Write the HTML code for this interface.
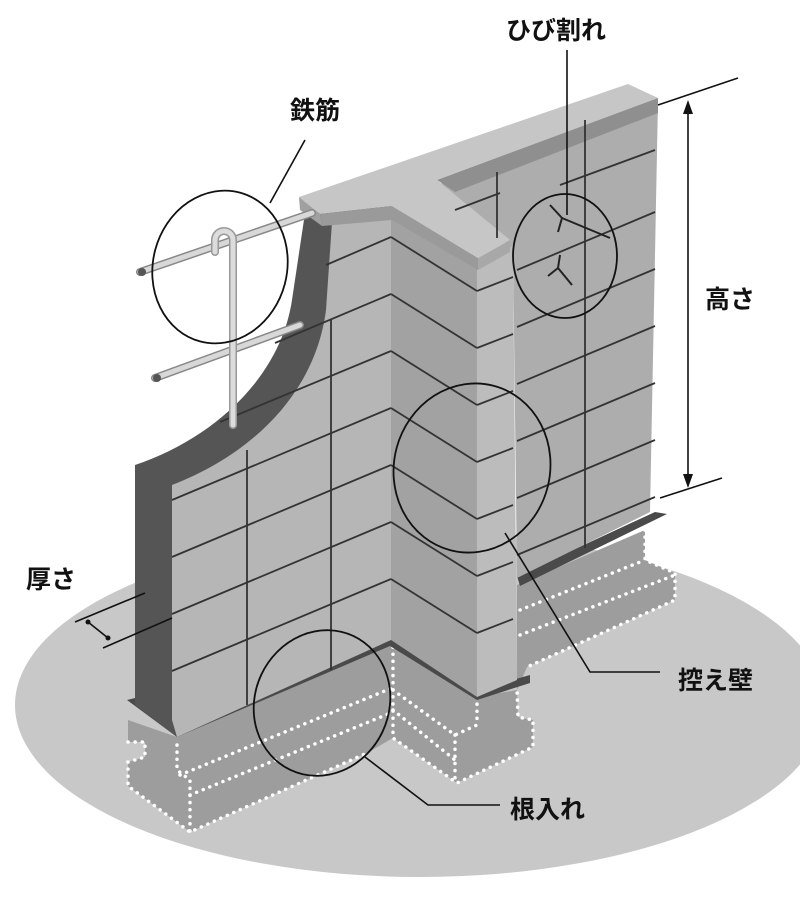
<!DOCTYPE html>
<html><head><meta charset="utf-8"><style>
html,body{margin:0;padding:0;background:#fff;}
svg{display:block;}
text{font-family:"Liberation Sans","Noto Sans CJK JP",sans-serif;font-weight:bold;font-size:25px;fill:#111;}
</style></head><body>
<svg width="800" height="905" viewBox="0 0 800 905" xmlns="http://www.w3.org/2000/svg">
<ellipse cx="420" cy="705" rx="405" ry="172" fill="#c8c8c8"/>
<polygon points="128,742 145,742 145,757 128,762 128,786 190,832 367,753 393,738 457,783 533,747 533,720 518,717 517,690 477,697 390,640 177,737 128,720" fill="#9d9d9d"/>
<polygon points="517,585 645,530 645,560 675,573 675,600 527,667 517,690" fill="#9d9d9d"/>
<g fill="none" stroke="#fff" stroke-width="3.5" stroke-dasharray="0.1 7" stroke-linecap="round">
<polyline points="128,742 145,742 145,757 128,762 128,786 190,832 367,753"/>
<polyline points="177,745 177,770 190,780 190,832"/>
<polyline points="180,775 392,688"/>
<polyline points="190,795 393,712"/>
<polyline points="393,640 393,738 457,783 533,747 533,720 518,717 517,690"/>
<polyline points="393,690 455,735 477,725"/>
<polyline points="393,710 455,760"/>
<polyline points="455,735 455,783"/>
<polyline points="477,697 477,725"/>
<polyline points="645,530 645,560 675,573 675,600 527,667"/>
<polyline points="520,610 645,560"/>
<polyline points="520,635 675,575"/>
</g>
<polygon points="127,700 390,635 400,640 390,646 177,737" fill="#4a4a4a"/>
<polygon points="390,636 477,690 530,675 530,683 477,700 390,646" fill="#4a4a4a"/>
<polygon points="517,576 655,512 667,514 520,586" fill="#4a4a4a"/>
<polygon points="437,185 658,100 650,512 517,578 513,250" fill="#adadad"/>
<path d="M135,705 L135,465 C210,440 280,380 292,300 L305,213 L391,206 L391,640 L177,737 Z" fill="#555"/>
<path d="M172,720 L172,485 C250,455 315,395 326,310 L332,222 L391,210 L391,640 L177,737 Z" fill="#b6b6b6"/>
<polygon points="391,208 477,262 477,697 391,640" fill="#a2a2a2"/>
<polygon points="477,262 513,246 517,680 477,697" fill="#bcbcbc"/>
<polygon points="299,197 628,84 658,98 437,180 510,240 478,258 392,206 320,214" fill="#c6c6c6"/>
<polygon points="320,214 392,206 478,258 478,270 392,220 322,226" fill="#9a9a9a"/>
<polygon points="478,258 510,240 510,252 478,270" fill="#a8a8a8"/>
<polygon points="437,180 658,98 658,113 455,192" fill="#8f8f8f"/>
<polygon points="299,197 320,214 322,226 300,210" fill="#a0a0a0"/>
<g stroke="#333" stroke-width="1.8" fill="none">
<line x1="247" y1="450" x2="247" y2="705"/>
<line x1="331" y1="320" x2="331" y2="670"/>
<line x1="585" y1="120" x2="585" y2="548"/>
<line x1="497" y1="172" x2="497" y2="238"/>
<line x1="172" y1="500" x2="391" y2="408"/>
<line x1="172" y1="557" x2="391" y2="465"/>
<line x1="172" y1="614" x2="391" y2="522"/>
<line x1="172" y1="671" x2="391" y2="579"/>
<line x1="220" y1="422" x2="391" y2="351"/>
<line x1="275" y1="343" x2="391" y2="294"/>
<line x1="326" y1="265" x2="391" y2="237"/>
<line x1="391" y1="294" x2="477" y2="348"/>
<line x1="391" y1="351" x2="477" y2="405"/>
<line x1="391" y1="408" x2="477" y2="462"/>
<line x1="391" y1="465" x2="477" y2="519"/>
<line x1="391" y1="522" x2="477" y2="576"/>
<line x1="391" y1="579" x2="477" y2="633"/>
<line x1="391" y1="237" x2="477" y2="291"/>
<line x1="477" y1="291" x2="513" y2="277"/>
<line x1="477" y1="348" x2="513" y2="334"/>
<line x1="477" y1="405" x2="513" y2="391"/>
<line x1="477" y1="462" x2="513" y2="448"/>
<line x1="477" y1="519" x2="513" y2="505"/>
<line x1="477" y1="576" x2="513" y2="562"/>
<line x1="477" y1="633" x2="513" y2="619"/>
<line x1="517" y1="270" x2="655" y2="212"/>
<line x1="517" y1="327" x2="655" y2="269"/>
<line x1="517" y1="384" x2="655" y2="326"/>
<line x1="517" y1="441" x2="655" y2="383"/>
<line x1="517" y1="498" x2="655" y2="440"/>
<line x1="517" y1="555" x2="655" y2="497"/>
<line x1="560" y1="185" x2="655" y2="150"/>
<line x1="455" y1="210" x2="500" y2="193"/>
</g>
<g stroke="#222" stroke-width="2" fill="none">
<polyline points="550,205 562,218 558,232"/>
<polyline points="562,218 610,238"/>
<polyline points="558,268 548,276"/>
<polyline points="558,268 572,285"/>
<polyline points="558,268 560,255"/>
</g>
<g stroke-linecap="round" fill="none">
<line x1="140" y1="272" x2="312" y2="213" stroke="#888" stroke-width="8"/>
<line x1="140" y1="272" x2="312" y2="213" stroke="#d8d8d8" stroke-width="5"/>
<line x1="155" y1="378" x2="300" y2="325" stroke="#888" stroke-width="8"/>
<line x1="155" y1="378" x2="300" y2="325" stroke="#d8d8d8" stroke-width="5"/>
<path d="M215,252 L215,240 A9,9 0 0 1 233,240 L233,425" stroke="#999" stroke-width="8"/>
<path d="M215,252 L215,240 A9,9 0 0 1 233,240 L233,425" stroke="#dcdcdc" stroke-width="5"/>
</g>
<circle cx="142" cy="272" r="4" fill="#555"/>
<circle cx="157" cy="378" r="4" fill="#555"/>
<g fill="none" stroke="#111" stroke-width="1.8">
<ellipse cx="220" cy="267" rx="67" ry="77" transform="rotate(15 220 267)"/>
<ellipse cx="565" cy="256" rx="52" ry="62"/>
<ellipse cx="472" cy="468" rx="78" ry="85" transform="rotate(15 472 468)"/>
<ellipse cx="322" cy="703" rx="67" ry="74" transform="rotate(25 322 703)"/>
</g>
<g fill="none" stroke="#111" stroke-width="1.6">
<line x1="305" y1="140" x2="270" y2="203"/>
<line x1="567" y1="50" x2="567" y2="215"/>
<line x1="658" y1="105" x2="738" y2="78"/>
<line x1="660" y1="498" x2="722" y2="478"/>
<line x1="688" y1="108" x2="688" y2="480"/>
<polyline points="505,533 590,672 660,672"/>
<polyline points="365,757 428,805 500,805"/>
<line x1="75" y1="622" x2="145" y2="593"/>
<line x1="103" y1="648" x2="172" y2="618"/>
<line x1="88" y1="622" x2="108" y2="638"/>
</g>
<polygon points="688,100 683,114 693,114" fill="#111"/>
<polygon points="688,488 683,474 693,474" fill="#111"/>
<circle cx="88" cy="622" r="2.5" fill="#111"/>
<circle cx="108" cy="638" r="2.5" fill="#111"/>
<text x="290" y="119">鉄筋</text>
<text x="506" y="39">ひび割れ</text>
<text x="705" y="308">高さ</text>
<text x="26" y="588">厚さ</text>
<text x="678" y="689">控え壁</text>
<text x="510" y="818">根入れ</text>
</svg>
</body></html>
